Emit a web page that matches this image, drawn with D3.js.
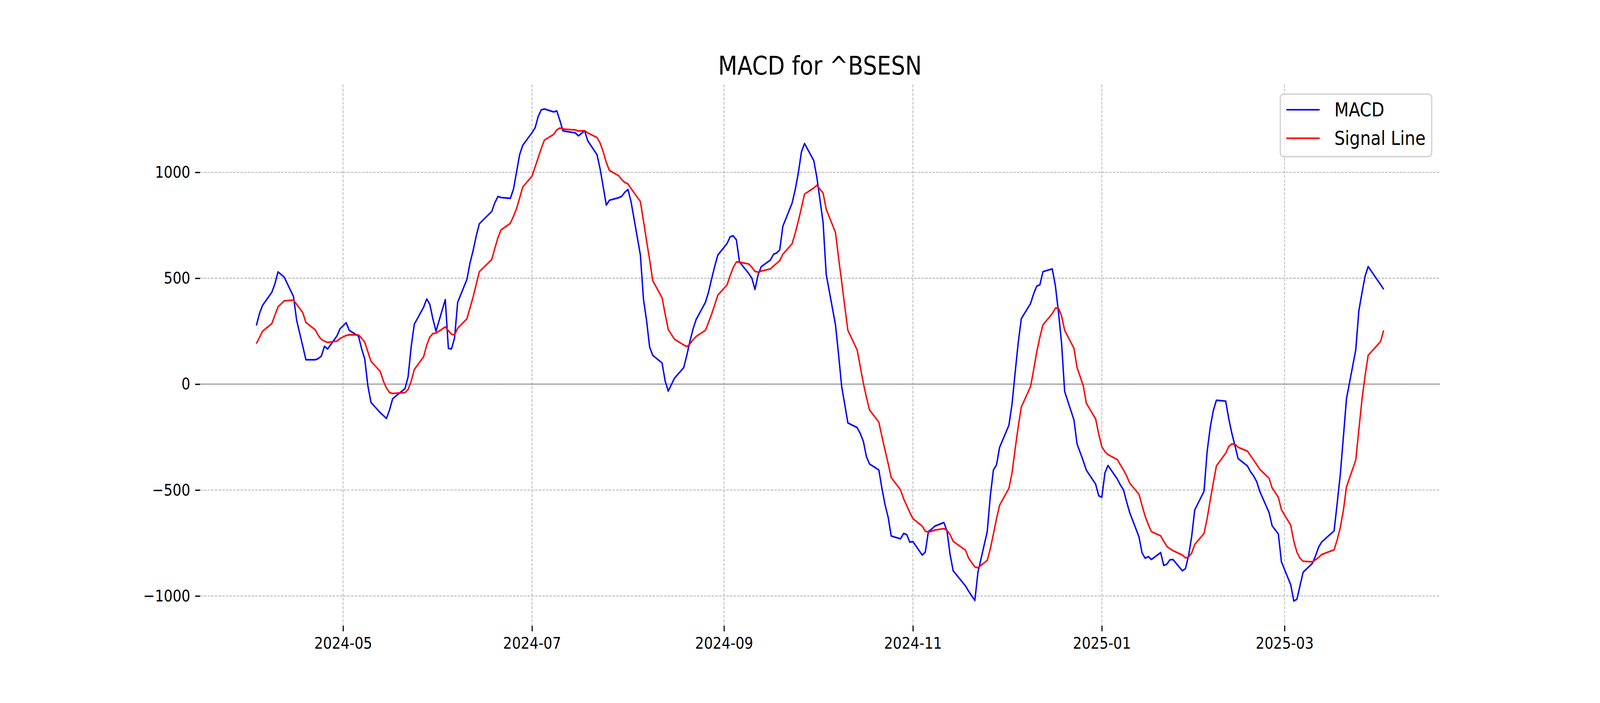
<!DOCTYPE html>
<html>
<head>
<meta charset="utf-8">
<script src="https://cdn.jsdelivr.net/npm/d3@7"></script>
<style>
  html, body { margin: 0; padding: 0; background: #fff; overflow: hidden; }
  svg { display: block; width: 100vw; height: 100vh; }
  text { font-family: "DejaVu Sans", sans-serif; }
</style>
</head>
<body>
<div id="chart"></div>
<script>
// trading days shown on the chart
const dates = [
  "2024-04-03","2024-04-04","2024-04-05","2024-04-08","2024-04-09","2024-04-10","2024-04-12","2024-04-15","2024-04-16","2024-04-18","2024-04-19","2024-04-22","2024-04-23","2024-04-24","2024-04-25","2024-04-26","2024-04-29","2024-04-30",
  "2024-05-02","2024-05-03","2024-05-06","2024-05-07","2024-05-08","2024-05-09","2024-05-10","2024-05-13","2024-05-14","2024-05-15","2024-05-16","2024-05-17","2024-05-21","2024-05-22","2024-05-23","2024-05-24","2024-05-27","2024-05-28","2024-05-29","2024-05-30","2024-05-31",
  "2024-06-03","2024-06-04","2024-06-05","2024-06-06","2024-06-07","2024-06-10","2024-06-11","2024-06-12","2024-06-13","2024-06-14","2024-06-18","2024-06-19","2024-06-20","2024-06-21","2024-06-24","2024-06-25","2024-06-26","2024-06-27","2024-06-28",
  "2024-07-01","2024-07-02","2024-07-03","2024-07-04","2024-07-05","2024-07-08","2024-07-09","2024-07-10","2024-07-11","2024-07-12","2024-07-15","2024-07-16","2024-07-18","2024-07-19","2024-07-22","2024-07-23","2024-07-24","2024-07-25","2024-07-26","2024-07-29","2024-07-30","2024-07-31",
  "2024-08-01","2024-08-02","2024-08-05","2024-08-06","2024-08-07","2024-08-08","2024-08-09","2024-08-12","2024-08-13","2024-08-14","2024-08-16","2024-08-19","2024-08-20","2024-08-21","2024-08-22","2024-08-23","2024-08-26","2024-08-27","2024-08-28","2024-08-29","2024-08-30",
  "2024-09-02","2024-09-03","2024-09-04","2024-09-05","2024-09-06","2024-09-09","2024-09-10","2024-09-11","2024-09-12","2024-09-13","2024-09-16","2024-09-17","2024-09-18","2024-09-19","2024-09-20","2024-09-23","2024-09-24","2024-09-25","2024-09-26","2024-09-27","2024-09-30",
  "2024-10-01","2024-10-03","2024-10-04","2024-10-07","2024-10-08","2024-10-09","2024-10-10","2024-10-11","2024-10-14","2024-10-15","2024-10-16","2024-10-17","2024-10-18","2024-10-21","2024-10-22","2024-10-23","2024-10-24","2024-10-25","2024-10-28","2024-10-29","2024-10-30","2024-10-31",
  "2024-11-01","2024-11-04","2024-11-05","2024-11-06","2024-11-07","2024-11-08","2024-11-11","2024-11-12","2024-11-13","2024-11-14","2024-11-18","2024-11-19","2024-11-21","2024-11-22","2024-11-25","2024-11-26","2024-11-27","2024-11-28","2024-11-29",
  "2024-12-02","2024-12-03","2024-12-04","2024-12-05","2024-12-06","2024-12-09","2024-12-10","2024-12-11","2024-12-12","2024-12-13","2024-12-16","2024-12-17","2024-12-18","2024-12-19","2024-12-20","2024-12-23","2024-12-24","2024-12-26","2024-12-27","2024-12-30","2024-12-31",
  "2025-01-01","2025-01-02","2025-01-03","2025-01-06","2025-01-07","2025-01-08","2025-01-09","2025-01-10","2025-01-13","2025-01-14","2025-01-15","2025-01-16","2025-01-17","2025-01-20","2025-01-21","2025-01-22","2025-01-23","2025-01-24","2025-01-27","2025-01-28","2025-01-29","2025-01-30","2025-01-31",
  "2025-02-03","2025-02-04","2025-02-05","2025-02-06","2025-02-07","2025-02-10","2025-02-11","2025-02-12","2025-02-13","2025-02-14","2025-02-17","2025-02-18","2025-02-19","2025-02-20","2025-02-21","2025-02-24","2025-02-25","2025-02-27","2025-02-28",
  "2025-03-03","2025-03-04","2025-03-05","2025-03-06","2025-03-07","2025-03-10","2025-03-11","2025-03-12","2025-03-13","2025-03-17","2025-03-18","2025-03-19","2025-03-20","2025-03-21","2025-03-24","2025-03-25","2025-03-26","2025-03-27","2025-03-28",
  "2025-04-01","2025-04-02"
];

const macd = [
  277,333,372,434,474,530,505,413,302,178,115,115,121,133,179,166,227,261,
  290,254,226,166,119,-7,-86,-135,-148,-162,-122,-69,-21,35,178,283,363,402,377,308,250,
  399,169,166,218,386,495,573,631,700,757,815,856,886,881,877,919,1000,1083,1127,
  1187,1210,1263,1295,1299,1285,1290,1245,1196,1193,1186,1172,1196,1149,1083,1016,931,845,868,880,887,906,
  919,860,610,400,300,174,136,100,15,-33,28,78,137,202,260,305,386,434,497,556,609,
  664,696,700,681,577,522,500,447,515,554,586,613,619,634,745,855,918,997,1096,1136,1055,
  975,763,518,280,139,-11,-97,-183,-205,-233,-270,-343,-377,-405,-492,-569,-628,-717,-730,-705,-710,-746,
  -743,-807,-793,-696,-685,-671,-653,-693,-804,-881,-953,-978,-1021,-888,-696,-527,-405,-381,-298,
  -194,-95,53,194,309,381,427,463,469,531,544,465,340,194,-35,-169,-282,-362,-406,-472,-527,
  -534,-419,-384,-448,-476,-499,-555,-606,-721,-797,-822,-814,-828,-795,-856,-850,-829,-828,-881,-871,-811,-721,-594,
  -506,-319,-205,-125,-76,-80,-164,-233,-291,-351,-386,-413,-433,-460,-506,-606,-669,-707,-839,
  -947,-1024,-1015,-951,-888,-846,-811,-770,-745,-693,-562,-427,-250,-69,162,347,430,509,555,
  470,448
];

const signal = [
  191,220,250,286,326,365,393,397,377,337,291,257,230,211,203,197,203,215,
  230,233,232,216,198,153,108,60,15,-18,-40,-44,-40,-25,14,69,129,184,222,239,241,
  270,252,236,232,264,309,361,412,472,531,588,641,691,728,759,792,828,878,930,
  982,1025,1069,1113,1152,1179,1200,1209,1205,1203,1200,1195,1196,1186,1164,1138,1097,1046,1009,984,965,952,
  945,923,862,770,676,586,488,408,331,258,212,185,177,190,209,225,254,291,330,374,420,
  469,513,551,577,576,567,552,532,529,534,544,558,570,583,613,663,713,770,832,897,926,
  939,902,826,716,595,483,366,254,161,83,4,-62,-122,-180,-247,-312,-374,-441,-499,-541,-573,-606,
  -635,-670,-694,-698,-695,-689,-682,-690,-710,-742,-784,-822,-863,-867,-832,-777,-707,-635,-571,
  -492,-420,-308,-201,-108,-11,69,153,222,280,333,359,359,322,254,169,79,-7,-90,-164,-236,
  -295,-319,-333,-356,-381,-405,-433,-467,-520,-573,-624,-662,-696,-716,-742,-766,-777,-786,-807,-820,-816,-798,-757,
  -705,-635,-548,-465,-386,-326,-294,-282,-284,-298,-316,-337,-358,-379,-402,-444,-490,-534,-593,
  -666,-742,-793,-822,-836,-839,-829,-818,-804,-782,-735,-677,-596,-485,-358,-215,-73,39,136,
  201,254
];

const seriesNames = ["MACD", "Signal Line"];
const seriesColors = ["blue", "red"];
const chartTitle = "MACD for ^BSESN";

const w = 4800;
const h = 1800;
const plotL = 600, plotR = 4320, plotT = 216, plotB = 1602;
const pt = 300 / 72;   // picture was made at 300 dpi

const parse = d3.utcParse("%Y-%m-%d");
const days = dates.map(parse);

// drawn in a 4800x1800 box that is stretched to the window
const svg = d3.select("#chart")
    .append("svg")
    .attr("viewBox", "0 0 " + w + " " + h)
    .attr("preserveAspectRatio", "none")
    .style("background", "#fff");

// 5% padding on both axes, like the original plot
const t0 = days[0], t1 = days[days.length - 1];
const span = t1 - t0;
const x = d3.scaleUtc()
    .domain([new Date(+t0 - 0.05 * span), new Date(+t1 + 0.05 * span)])
    .range([plotL, plotR]);

const all = macd.concat(signal);
const lo = d3.min(all), hi = d3.max(all);
const pad = (hi - lo) * 0.05;
const y = d3.scaleLinear()
    .domain([lo - pad, hi + pad])
    .range([plotB, plotT]);

const xTicks = x.ticks(d3.utcMonth.every(2));
const yTicks = y.ticks(5);

// dashed grid
const grid = svg.append("g")
    .attr("stroke", "#b0b0b0")
    .attr("stroke-width", 0.5 * pt)
    .attr("stroke-dasharray", (3.7 * 0.5 * pt) + "," + (1.6 * 0.5 * pt));

grid.selectAll(".gx")
    .data(xTicks)
    .enter()
    .append("line")
    .attr("x1", d => x(d)).attr("x2", d => x(d))
    .attr("y1", plotT).attr("y2", plotB);

grid.selectAll(".gy")
    .data(yTicks)
    .enter()
    .append("line")
    .attr("x1", plotL).attr("x2", plotR)
    .attr("y1", d => y(d)).attr("y2", d => y(d));

// zero line
svg.append("line")
    .attr("x1", plotL).attr("x2", plotR)
    .attr("y1", y(0)).attr("y2", y(0))
    .attr("stroke", "gray")
    .attr("stroke-width", 0.5 * pt);

// axes (no spines)
const xAxis = svg.append("g")
    .attr("transform", "translate(0," + plotB + ")")
    .call(d3.axisBottom(x)
        .ticks(d3.utcMonth.every(2))
        .tickFormat(d3.utcFormat("%Y-%m"))
        .tickSize(3.5 * pt)
        .tickPadding(3.5 * pt));

const yAxis = svg.append("g")
    .attr("transform", "translate(" + plotL + ",0)")
    .call(d3.axisLeft(y)
        .ticks(5)
        .tickFormat(d3.format("d"))
        .tickSize(3.5 * pt)
        .tickPadding(3.5 * pt));

[xAxis, yAxis].forEach(a => {
    a.select(".domain").remove();
    a.selectAll(".tick line").attr("stroke", "#000").attr("stroke-width", 0.8 * pt);
    a.selectAll(".tick text")
        .attr("fill", "#000")
        .style("font-family", "'DejaVu Sans', sans-serif")
        .style("font-size", (10 * pt) + "px");
});

// the two lines
const line = d3.line()
    .x((d, i) => x(days[i]))
    .y(d => y(d));

[macd, signal].forEach((s, k) => {
    svg.append("path")
        .datum(s)
        .attr("fill", "none")
        .attr("stroke", seriesColors[k])
        .attr("stroke-width", 1 * pt)
        .attr("stroke-linejoin", "round")
        .attr("d", line);
});

// title
svg.append("text")
    .attr("x", (plotL + plotR) / 2)
    .attr("y", plotT - 6 * pt)
    .attr("text-anchor", "middle")
    .style("font-size", (16 * pt) + "px")
    .attr("fill", "#000")
    .text(chartTitle);

// legend, upper right
const fs = 12 * pt;
const lw = 454, lh = 160;
const lx = plotR - 0.5 * fs - lw, ly = plotT + 0.5 * fs;
const legend = svg.append("g").attr("transform", "translate(" + lx + "," + ly + ")");

legend.append("rect")
    .attr("width", lw)
    .attr("height", lh)
    .attr("rx", 0.2 * fs)
    .attr("fill", "#fff")
    .attr("fill-opacity", 0.8)
    .attr("stroke", "#cccccc")
    .attr("stroke-opacity", 0.8)
    .attr("stroke-width", 1 * pt);

const items = legend.selectAll(".item")
    .data(seriesNames)
    .enter()
    .append("g")
    .attr("transform", (d, i) => "translate(0," + (40 + i * 73) + ")");

items.append("line")
    .attr("x1", 18).attr("x2", 18 + 2 * fs)
    .attr("stroke", (d, i) => seriesColors[i])
    .attr("stroke-width", 1 * pt);

items.append("text")
    .attr("x", 162)
    .attr("y", 17)
    .style("font-size", fs + "px")
    .attr("fill", "#000")
    .text(d => d);
</script>
</body>
</html>
